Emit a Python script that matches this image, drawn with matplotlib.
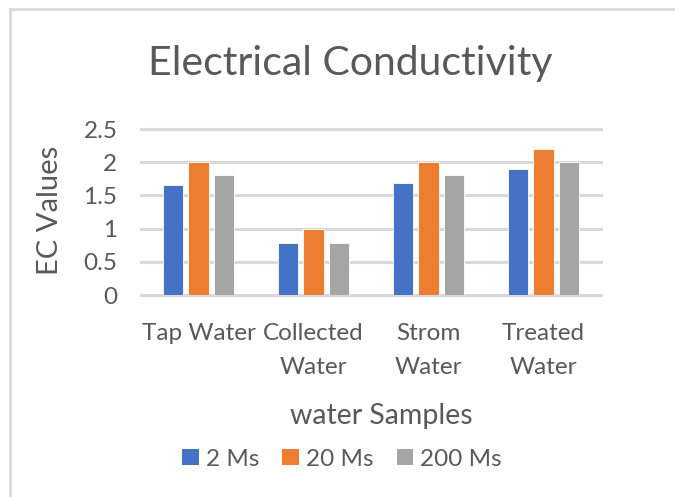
import matplotlib.pyplot as plt
from matplotlib.lines import Line2D
from matplotlib.patches import Patch
import numpy as np

# Dữ liệu
categories = ['Tap Water', 'Collected\nWater', 'Strom\nWater', 'Treated\nWater']
series_names = ['2 Ms', '20 Ms', '200 Ms']
ms2 = [1.66, 0.79, 1.69, 1.90]
ms20 = [2.0, 1.0, 2.0, 2.2]
ms200 = [1.8, 0.79, 1.8, 2.0]
y_ticks = [0, 0.5, 1, 1.5, 2, 2.5]
y_tick_labels = ['0', '0.5', '1', '1.5', '2', '2.5']

colors = ['#4472C4', '#ED7D31', '#A5A5A5']
text_color = '#595959'
grid_color = '#D9D9D9'
W, H = 675, 497

plt.rcParams['font.family'] = ['Lato', 'DejaVu Sans']

fig = plt.figure(figsize=(W / 100, H / 100), dpi=100)
ax = fig.add_axes([141 / W, (H - 295) / H, 460 / W, 166 / H])

x = np.arange(len(categories))
bar_w = 0.174
step = 0.221
for i, vals in enumerate([ms2, ms20, ms200]):
    ax.bar(x + (i - 1) * step, vals, width=bar_w, color=colors[i],
           edgecolor='white', linewidth=0.6, zorder=3, label=series_names[i])

ax.set_xlim(-0.5, 3.5)
ax.set_ylim(0, 2.5)
ax.set_yticks(y_ticks)
ax.set_yticklabels(y_tick_labels)
ax.set_xticks(x)
ax.set_xticklabels(categories, linespacing=1.78)
ax.tick_params(axis='both', length=0, labelsize=17.5, colors=text_color)
ax.tick_params(axis='y', pad=17)
ax.tick_params(axis='x', pad=20)
for s in ax.spines.values():
    s.set_visible(False)
ax.yaxis.grid(True, color=grid_color, linewidth=2.2, zorder=0)
for gl in ax.get_ygridlines():
    gl.set_clip_on(False)
ax.set_axisbelow(True)

fig.text(350 / W, 1 - 63 / H, 'Electrical Conductivity', ha='center', va='center',
         fontsize=29.5, color=text_color)
fig.text(50 / W, 1 - 210 / H, 'EC Values', ha='center', va='center',
         rotation=90, fontsize=21, color=text_color)
fig.text(381 / W, 1 - 416 / H, 'water Samples', ha='center', va='center',
         fontsize=20.5, color=text_color)

handles = [Patch(facecolor=c, edgecolor='none') for c in colors]
fig.legend(handles, series_names, loc='center', bbox_to_anchor=(342 / W, 1 - 459 / H),
           ncol=3, frameon=False, fontsize=17.5, labelcolor=text_color,
           handlelength=0.67, handleheight=0.67, handletextpad=0.3, columnspacing=0.95)

# Khung viền
fig.add_artist(Line2D([10 / W, 10 / W], [0, 1 - 9 / H], color=grid_color, linewidth=2))
fig.add_artist(Line2D([10 / W, 1], [1 - 9 / H, 1 - 9 / H], color=grid_color, linewidth=2))

fig.savefig('out.png', dpi=100)
